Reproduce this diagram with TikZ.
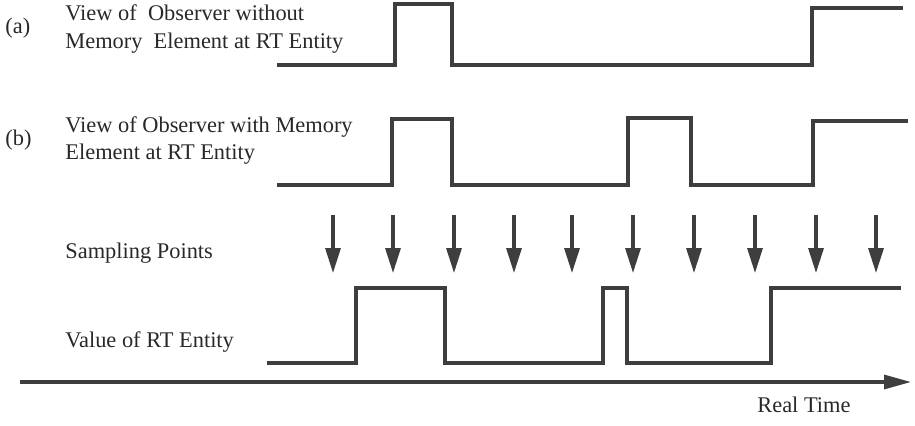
\documentclass[tikz,border=0pt]{standalone}
\usepackage{fontspec}
\setmainfont{Liberation Serif}
\usepackage{tikz}
\usetikzlibrary{arrows.meta}
\definecolor{signalgray}{RGB}{62,62,62}
\definecolor{labelgray}{RGB}{40,40,40}

\begin{document}
\begin{tikzpicture}[x=0.5pt,y=-0.5pt,
	signal/.style={signalgray,line width=1.6pt,line join=miter},
	sample/.style={signalgray,line width=1.6pt,-{Triangle[length=12.5pt,width=7.5pt]}},
	lbl/.style={labelgray,anchor=base west,inner sep=0pt,font=\fontsize{11.2}{13}\selectfont}]
			\useasboundingbox (0,0) rectangle (915,425);
			% signal (a)
			\draw [signal] (277,65)-- (395,65)-- (395,4)-- (452,4)-- (452,65)-- (812,65)-- (812,8)-- (903,8);
			% signal (b)
			\draw [signal] (277,185)-- (392,185)-- (392,119)-- (452,119)-- (452,185)-- (628,185)-- (628,118)-- (691,118)-- (691,185)-- (813,185)-- (813,121)-- (908,121);
			% value of the entity
			\draw [signal] (267,363)-- (356,363)-- (356,288)-- (445,288)-- (445,363)-- (603,363)-- (603,288)-- (627,288)-- (627,363)-- (771,363)-- (771,288)-- (901,288);
		
				\coordinate (s1) at (333,215); \coordinate (p1) at (333,273);
				\coordinate (s2) at (393,215); \coordinate (p2) at (393,273);
				\coordinate (s3) at (454,215); \coordinate (p3) at (454,273);
				\coordinate (s4) at (514,215); \coordinate (p4) at (514,273);
				\coordinate (s5) at (572,215); \coordinate (p5) at (572,273);
				\coordinate (s6) at (633,215); \coordinate (p6) at (633,273);
				\coordinate (s7) at (694,215); \coordinate (p7) at (694,273);
				\coordinate (s8) at (755,215); \coordinate (p8) at (755,273);
				\coordinate (s9) at (816,215); \coordinate (p9) at (816,273);
				\coordinate (s10) at (876,215); \coordinate (p10) at (876,273);
				\draw [sample] (s1)-- (p1);
				\draw [sample] (s2)-- (p2);
				\draw [sample] (s3)-- (p3);
				\draw [sample] (s4)-- (p4);
				\draw [sample] (s5)-- (p5);
				\draw [sample] (s6)-- (p6);
				\draw [sample] (s7)-- (p7);
				\draw [sample] (s8)-- (p8);
				\draw [sample] (s9)-- (p9);
				\draw [sample] (s10)-- (p10);
		
				\coordinate (axisstart) at (20,382);
				\coordinate (axisend) at (911,382);
				\draw [signalgray,line width=1.6pt,-{Triangle[length=13.5pt,width=7pt]}] (axisstart)-- (axisend);
		
				\node[lbl] (tagA) at (5,33) {(a)};
				\node[lbl] (viewA1) at (65,20) {View of\ \ Observer without};
				\node[lbl] (viewA2) at (65,48) {Memory\ \ Element at RT Entity};
				\node[lbl] (tagB) at (5,145) {(b)};
				\node[lbl] (viewB1) at (65,132) {View of Observer with Memory};
				\node[lbl] (viewB2) at (65,159) {Element at RT Entity};
				\node[lbl] (sampling) at (65,258) {Sampling Points};
				\node[lbl] (value) at (65,347) {Value of RT Entity};
				\node[lbl] (realtime) at (757,412) {Real Time};
		\end{tikzpicture}
\end{document}
